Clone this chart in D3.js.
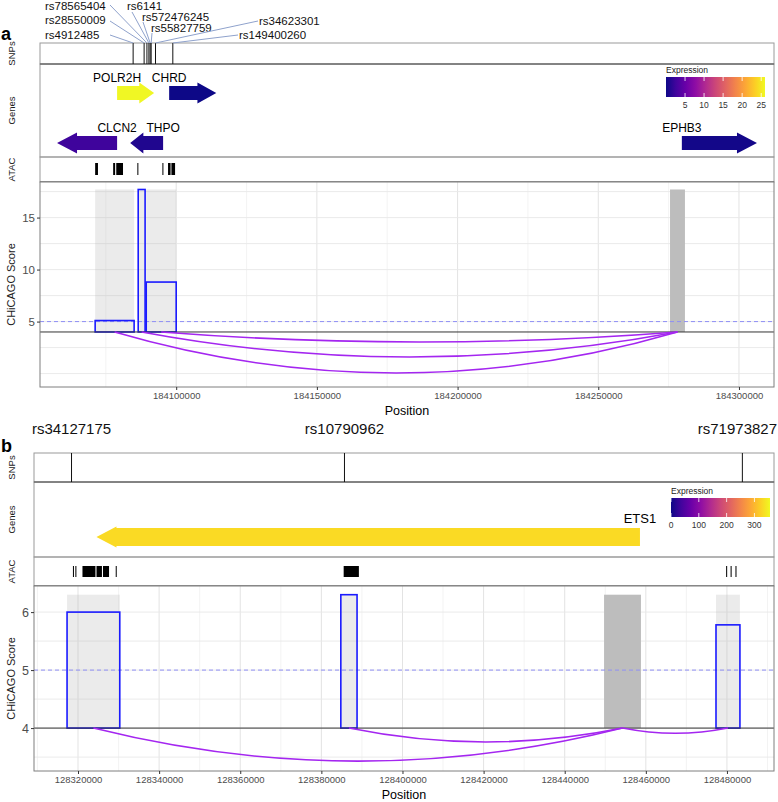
<!DOCTYPE html>
<html>
<head>
<meta charset="utf-8">
<script src="https://cdn.jsdelivr.net/npm/d3@7"></script>
<style>
  body { margin: 0; background: #fff; }
  text { font-family: "Liberation Sans", Arial, sans-serif; }
</style>
</head>
<body>
<svg id="chart" width="778" height="802"></svg>
<script>
// ---------- panel a data ----------
const snpNamesA = ["rs4912485", "rs28550009", "rs78565404", "rs6141", "rs572476245", "rs55827759", "rs34623301", "rs149400260"];
const snpPosA = [184084700, 184088600, 184089600, 184090300, 184090750, 184091100, 184092650, 184098800];

const geneNamesA = ["POLR2H", "CHRD", "CLCN2", "THPO", "EPHB3"];
const geneStartA = [184079000, 184097500, 184057650, 184083650, 184279700];
const geneEndA = [184092150, 184114250, 184079000, 184095350, 184306400];
const geneStrandA = ["+", "+", "-", "-", "+"];
const geneRowA = [1, 1, 2, 2, 2];
const geneExprA = [25.8, 0.1, 2.5, 0.8, 0.3];

const atacStartA = [184071200, 184077600, 184078700, 184086200, 184095100, 184097100, 184098300];
const atacEndA = [184072200, 184078300, 184081100, 184086550, 184095450, 184098000, 184099600];

const fragStartA = [184071200, 184086500, 184089350];
const fragEndA = [184085050, 184088950, 184100000];
const fragScoreA = [5.1, 17.7, 8.8];
const arcDipA = [0.06, 1.6, 3.04];      // lowest point of each interaction arc
const baitA = [184275500, 184280800];

const yTicksA = [5, 10, 15];
const exprTicksA = [5, 10, 15, 20, 25];

// ---------- panel b data ----------
const snpNamesB = ["rs34127175", "rs10790962", "rs71973827"];
const snpPosB = [128318400, 128385700, 128483800];

const geneNamesB = ["ETS1"];
const geneStartB = [128324550];
const geneEndB = [128458550];
const geneStrandB = ["-"];
const geneRowB = [1];
const geneExprB = [330];

const atacStartB = [128318750, 128319350, 128321100, 128324560, 128326160, 128329300, 128385500, 128479800, 128480900, 128482100];
const atacEndB = [128319000, 128319600, 128324300, 128325900, 128327650, 128329500, 128389250, 128480050, 128481150, 128482350];

const fragStartB = [128317300, 128384800, 128477300];
const fragEndB = [128330300, 128388800, 128483200];
const fragScoreB = [6.0, 6.3, 5.78];
const arcDipB = [3.43, 3.76, 3.91];
const baitB = [128449700, 128458800];

const yTicksB = [4, 5, 6];
const exprTicksB = [0, 100, 200, 300];

const threshold = 5;
const baseline = 4;

// ---------- layout ----------
const layoutA = {
  tag: "a", tagY: 40, left: 40, right: 774,
  snp: [43, 64], genes: [64, 157], atac: [157, 182], plot: [182, 387],
  xDomain: [184051600, 184312450], yDomain: [-1.29, 18.42], yMinorStep: 2.5,
  rowY: [93, 143], bodyH: 14, headH: 21, geneFont: 12, geneLabelDy: -11,
  atacY: [163, 175], legend: { x: 666, y: 77, w: 99, h: 20 }, exprMax: 26,
  titleX: 15, yFont: 11.5
};
const layoutB = {
  tag: "b", tagY: 452, left: 34, right: 774,
  snp: [453, 482], genes: [482, 557], atac: [557, 586], plot: [586, 771],
  xDomain: [128309150, 128491600], yDomain: [3.26, 6.45], yMinorStep: 0.5,
  rowY: [537], bodyH: 18, headH: 21, geneFont: 13, geneLabelDy: -14,
  atacY: [566, 577], legend: { x: 671, y: 498, w: 99, h: 19 }, exprMax: 356,
  titleX: 15, yFont: 12.5
};

// repelled label placement for panel a SNPs (text start, baseline, segment start)
const snpLabelA = [
  [45, 39, 110, 35], [45, 24, 110, 21], [45, 9.5, 110, 5], [127, 9.5, 132, 12],
  [142, 20.5, 143, 22], [151, 32, 152, 33], [259, 25, 258, 21], [239, 39, 238, 35]
];

const svg = d3.select("#chart");
const defs = svg.append("defs");

function arrowPath(x0, x1, yc, strand, bh, hh) {
  const w = x1 - x0;
  const hl = Math.min(20, 0.4 * w);
  if (strand === "+") {
    return `M${x0},${yc - bh / 2}L${x1 - hl},${yc - bh / 2}L${x1 - hl},${yc - hh / 2}L${x1},${yc}` +
      `L${x1 - hl},${yc + hh / 2}L${x1 - hl},${yc + bh / 2}L${x0},${yc + bh / 2}Z`;
  }
  return `M${x1},${yc - bh / 2}L${x0 + hl},${yc - bh / 2}L${x0 + hl},${yc - hh / 2}L${x0},${yc}` +
    `L${x0 + hl},${yc + hh / 2}L${x0 + hl},${yc + bh / 2}L${x1},${yc + bh / 2}Z`;
}

function sideTitle(g, label, cy, L, size) {
  g.append("text")
    .attr("transform", `translate(${L.titleX},${cy}) rotate(-90)`)
    .attr("text-anchor", "middle")
    .attr("font-size", size)
    .attr("fill", "#1a1a1a")
    .text(label);
}

function drawPanel(L, d) {
  const g = svg.append("g");
  const x = d3.scaleLinear().domain(L.xDomain).range([L.left, L.right]);
  const y = d3.scaleLinear().domain(L.yDomain).range([L.plot[1], L.plot[0]]);
  const color = d3.scaleSequential(d3.interpolatePlasma).domain([0, L.exprMax]);
  const row = d3.scalePoint().domain(d3.range(1, L.rowY.length + 1)).range(L.rowY);
  if (L.rowY.length === 1) row.range([L.rowY[0], L.rowY[0]]);

  // tag
  g.append("text").attr("x", 1).attr("y", L.tagY)
    .attr("font-size", 18).attr("font-weight", "bold").text(L.tag);

  // track frames
  [L.snp, L.genes, L.atac].forEach(r => {
    g.append("rect").attr("x", L.left).attr("y", r[0])
      .attr("width", L.right - L.left).attr("height", r[1] - r[0])
      .attr("fill", "none").attr("stroke", "#9a9a9a");
  });
  [L.snp[1], L.atac[1]].forEach(v => {
    g.append("line").attr("x1", L.left).attr("x2", L.right)
      .attr("y1", v).attr("y2", v).attr("stroke", "#555");
  });

  // SNP track
  g.selectAll(".snp").data(d.snpPos).enter().append("line")
    .attr("x1", v => x(v)).attr("x2", v => x(v))
    .attr("y1", L.snp[0]).attr("y2", L.snp[1])
    .attr("stroke", "#111").attr("stroke-width", 1);

  // genes
  const genes = d.geneNames.map((n, i) => ({
    name: n, s: d.geneStart[i], e: d.geneEnd[i], strand: d.geneStrand[i],
    row: d.geneRow[i], expr: d.geneExpr[i]
  }));
  g.selectAll(".gene").data(genes).enter().append("path")
    .attr("d", gn => arrowPath(x(gn.s), x(gn.e), row(gn.row), gn.strand, L.bodyH, L.headH))
    .attr("fill", gn => color(gn.expr));
  g.selectAll(".glab").data(genes).enter().append("text")
    .attr("x", gn => x(gn.strand === "+" ? gn.s : gn.e))
    .attr("y", gn => row(gn.row) + L.geneLabelDy)
    .attr("text-anchor", "middle")
    .attr("font-size", L.geneFont)
    .text(gn => gn.name);

  // expression legend
  const gid = "grad" + L.tag;
  const grad = defs.append("linearGradient").attr("id", gid);
  d3.range(0, 1.0001, 0.1).forEach(t => {
    grad.append("stop").attr("offset", t).attr("stop-color", d3.interpolatePlasma(t));
  });
  const lg = L.legend;
  const lx = d3.scaleLinear().domain([0, L.exprMax]).range([lg.x, lg.x + lg.w]);
  g.append("text").attr("x", lg.x).attr("y", lg.y - 4)
    .attr("font-size", 8.5).attr("fill", "#222").text("Expression");
  g.append("rect").attr("x", lg.x).attr("y", lg.y)
    .attr("width", lg.w).attr("height", lg.h).attr("fill", `url(#${gid})`);
  d.exprTicks.forEach(t => {
    g.append("line").attr("x1", lx(t)).attr("x2", lx(t))
      .attr("y1", lg.y).attr("y2", lg.y + 4).attr("stroke", "#fff").attr("stroke-opacity", 0.8);
    g.append("line").attr("x1", lx(t)).attr("x2", lx(t))
      .attr("y1", lg.y + lg.h - 4).attr("y2", lg.y + lg.h).attr("stroke", "#fff").attr("stroke-opacity", 0.8);
    g.append("text").attr("x", lx(t)).attr("y", lg.y + lg.h + 11)
      .attr("text-anchor", "middle").attr("font-size", 8.5).attr("fill", "#333").text(t);
  });

  // ATAC track
  g.selectAll(".atac").data(d.atacStart).enter().append("rect")
    .attr("x", (v, i) => x(v))
    .attr("width", (v, i) => Math.max(1, x(d.atacEnd[i]) - x(v)))
    .attr("y", L.atacY[0]).attr("height", L.atacY[1] - L.atacY[0])
    .attr("fill", "#000");

  // ---------- CHiCAGO plot ----------
  const pw = L.right - L.left;
  g.append("rect").attr("x", L.left).attr("y", L.plot[0])
    .attr("width", pw).attr("height", L.plot[1] - L.plot[0]).attr("fill", "#fff");

  const xMajor = x.ticks(L.tag === "a" ? 5 : 10);
  const xStep = xMajor[1] - xMajor[0];
  const xMinor = d3.range(xMajor[0] - xStep / 2, L.xDomain[1], xStep)
    .filter(v => v > L.xDomain[0] && v < L.xDomain[1]);
  const yMinor = d3.range(Math.ceil(L.yDomain[0] / L.yMinorStep) * L.yMinorStep, L.yDomain[1], L.yMinorStep);

  g.selectAll(".vminor").data(xMinor).enter().append("line")
    .attr("x1", v => x(v)).attr("x2", v => x(v)).attr("y1", L.plot[0]).attr("y2", L.plot[1])
    .attr("stroke", "#f0f0f0").attr("stroke-width", 0.8);
  g.selectAll(".vmajor").data(xMajor).enter().append("line")
    .attr("x1", v => x(v)).attr("x2", v => x(v)).attr("y1", L.plot[0]).attr("y2", L.plot[1])
    .attr("stroke", "#e3e3e3").attr("stroke-width", 1);
  g.selectAll(".hgrid").data(yMinor).enter().append("line")
    .attr("x1", L.left).attr("x2", L.right).attr("y1", v => y(v)).attr("y2", v => y(v))
    .attr("stroke", "#e9e9e9").attr("stroke-width", 0.9);

  // shaded fragments and bait
  const top = d3.max(d.fragScore);
  g.selectAll(".shade").data(d.fragStart).enter().append("rect")
    .attr("x", v => x(v))
    .attr("width", (v, i) => x(d.fragEnd[i]) - x(v))
    .attr("y", y(top)).attr("height", y(baseline) - y(top))
    .attr("fill", "#b0b0b0").attr("fill-opacity", 0.25);
  g.append("rect").attr("x", x(d.bait[0])).attr("width", x(d.bait[1]) - x(d.bait[0]))
    .attr("y", y(top)).attr("height", y(baseline) - y(top))
    .attr("fill", "#bdbdbd");

  // threshold
  g.append("line").attr("x1", L.left).attr("x2", L.right)
    .attr("y1", y(threshold)).attr("y2", y(threshold))
    .attr("stroke", "#8f8ff5").attr("stroke-width", 1).attr("stroke-dasharray", "4,3");

  // score bars
  g.selectAll(".bar").data(d.fragScore).enter().append("rect")
    .attr("x", (v, i) => x(d.fragStart[i]))
    .attr("width", (v, i) => x(d.fragEnd[i]) - x(d.fragStart[i]))
    .attr("y", v => y(v)).attr("height", v => y(baseline) - y(v))
    .attr("fill", "none").attr("stroke", "#1a1aff").attr("stroke-width", 1.6);

  // baseline
  g.append("line").attr("x1", L.left).attr("x2", L.right)
    .attr("y1", y(baseline)).attr("y2", y(baseline))
    .attr("stroke", "#333").attr("stroke-width", 1);

  // interaction arcs
  const baitMid = (d.bait[0] + d.bait[1]) / 2;
  g.selectAll(".arc").data(d.arcDip).enter().append("path")
    .attr("d", (dip, i) => {
      const m = (d.fragStart[i] + d.fragEnd[i]) / 2;
      const a = Math.min(m, baitMid), b = Math.max(m, baitMid);
      const c = 2 * dip - baseline;
      return `M${x(a)},${y(baseline)}Q${x((a + b) / 2)},${y(c)} ${x(b)},${y(baseline)}`;
    })
    .attr("fill", "none").attr("stroke", "#a426f0").attr("stroke-width", 1.6);

  g.append("rect").attr("x", L.left).attr("y", L.plot[0])
    .attr("width", pw).attr("height", L.plot[1] - L.plot[0])
    .attr("fill", "none").attr("stroke", "#7f7f7f");

  // axes
  const gx = g.append("g").attr("transform", `translate(0,${L.plot[1]})`)
    .call(d3.axisBottom(x).tickValues(xMajor).tickFormat(d3.format("d")).tickSize(3).tickPadding(2));
  gx.select(".domain").remove();
  gx.selectAll("line").attr("stroke", "#333");
  gx.selectAll("text").attr("font-size", 9.5).attr("fill", "#4d4d4d")
    .attr("font-family", "'Liberation Sans', Arial, sans-serif");

  const gy = g.append("g").attr("transform", `translate(${L.left},0)`)
    .call(d3.axisLeft(y).tickValues(d.yTicks).tickFormat(d3.format("d")).tickSize(3).tickPadding(2));
  gy.select(".domain").remove();
  gy.selectAll("line").attr("stroke", "#333");
  gy.selectAll("text").attr("font-size", L.yFont).attr("fill", "#4d4d4d")
    .attr("font-family", "'Liberation Sans', Arial, sans-serif");

  g.append("text").attr("x", (L.left + L.right) / 2).attr("y", L.plot[1] + 28)
    .attr("text-anchor", "middle").attr("font-size", 12.5).text("Position");

  sideTitle(g, "SNPs", (L.snp[0] + L.snp[1]) / 2, L, 9.5);
  sideTitle(g, "Genes", (L.genes[0] + L.genes[1]) / 2, L, 9.5);
  sideTitle(g, "ATAC", (L.atac[0] + L.atac[1]) / 2, L, 9.5);
  sideTitle(g, "CHiCAGO Score", (L.plot[0] + L.plot[1]) / 2, L, 11);

  return x;
}

// ---------- panel a ----------
const xa = drawPanel(layoutA, {
  snpPos: snpPosA, geneNames: geneNamesA, geneStart: geneStartA, geneEnd: geneEndA,
  geneStrand: geneStrandA, geneRow: geneRowA, geneExpr: geneExprA, exprTicks: exprTicksA,
  atacStart: atacStartA, atacEnd: atacEndA, fragStart: fragStartA, fragEnd: fragEndA,
  fragScore: fragScoreA, arcDip: arcDipA, bait: baitA, yTicks: yTicksA
});
const snpLabels = svg.append("g");
snpNamesA.forEach((n, i) => {
  const p = snpLabelA[i];
  snpLabels.append("line").attr("x1", p[2]).attr("y1", p[3])
    .attr("x2", xa(snpPosA[i])).attr("y2", layoutA.snp[0])
    .attr("stroke", "#8fa2cc").attr("stroke-width", 1);
  snpLabels.append("text").attr("x", p[0]).attr("y", p[1])
    .attr("font-family", "Roboto, sans-serif").attr("font-size", 11.5).attr("fill", "#111")
    .text(n);
});

// ---------- panel b ----------
const xb = drawPanel(layoutB, {
  snpPos: snpPosB, geneNames: geneNamesB, geneStart: geneStartB, geneEnd: geneEndB,
  geneStrand: geneStrandB, geneRow: geneRowB, geneExpr: geneExprB, exprTicks: exprTicksB,
  atacStart: atacStartB, atacEnd: atacEndB, fragStart: fragStartB, fragEnd: fragEndB,
  fragScore: fragScoreB, arcDip: arcDipB, bait: baitB, yTicks: yTicksB
});
snpNamesB.forEach((n, i) => {
  const t = svg.append("text").attr("x", xb(snpPosB[i])).attr("y", 434)
    .attr("text-anchor", "middle").attr("font-size", 15).attr("fill", "#111").text(n);
  const bb = t.node().getBBox();
  if (bb.x + bb.width > 777) t.attr("text-anchor", "end").attr("x", 777);
  if (bb.x < 2) t.attr("text-anchor", "start").attr("x", 2);
});
</script>
</body>
</html>
